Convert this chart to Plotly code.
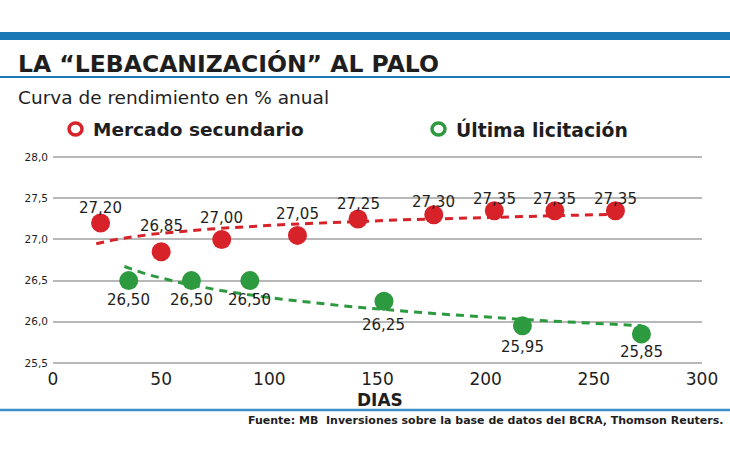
import numpy as np
import plotly.graph_objects as go

# ---- data ----
sec_days = [22, 50, 78, 113, 141, 176, 204, 232, 260]
sec_rates = [27.20, 26.85, 27.00, 27.05, 27.25, 27.30, 27.35, 27.35, 27.35]
lic_days = [35, 64, 91, 153, 217, 272]
lic_rates = [26.50, 26.50, 26.50, 26.25, 25.95, 25.85]
y_ticks = [25.5, 26.0, 26.5, 27.0, 27.5, 28.0]
x_ticks = [0, 50, 100, 150, 200, 250, 300]

# ---- label placement (style: vertical pixel shift of each value label) ----
sec_label_shift = [15, 26, 21, 21, 15, 13, 12, 12, 12]
lic_label_shift = [-19, -19, -19, -24, -21, -18]

RED = "#d7222a"
GREEN = "#2e9a40"
BLUE = "#1a78b4"
DARK = "#1e1e1e"
FONT = "DejaVu Sans"

W, H = 730, 460
ML, MR, MT, MB = 53, 28, 149, 93
PW, PH = W - ML - MR, H - MT - MB


def px(x):
    return (x - ML) / PW


def py(y):
    return (H - MB - y) / PH


def log_trend(xs, ys):
    lx = np.log(np.array(xs, dtype=float))
    b, a = np.polyfit(lx, np.array(ys, dtype=float), 1)
    xx = np.linspace(min(xs) - 2, max(xs), 60)
    return xx, a + b * np.log(xx)


def fmt(v):
    return f"{v:.2f}".replace(".", ",")


fig = go.Figure()

tx, ty = log_trend(sec_days, sec_rates)
fig.add_trace(go.Scatter(x=tx, y=ty, mode="lines", hoverinfo="skip",
                         line=dict(color=RED, width=3, dash="8px,6px"), showlegend=False))
tx, ty = log_trend(lic_days, lic_rates)
fig.add_trace(go.Scatter(x=tx, y=ty, mode="lines", hoverinfo="skip",
                         line=dict(color=GREEN, width=3, dash="8px,6px"), showlegend=False))

fig.add_trace(go.Scatter(
    x=sec_days, y=sec_rates, mode="markers", name="Mercado secundario",
    marker=dict(color=RED, size=19, line=dict(width=0)), showlegend=False))
fig.add_trace(go.Scatter(
    x=lic_days, y=lic_rates, mode="markers", name="Última licitación",
    marker=dict(color=GREEN, size=19, line=dict(width=0)), showlegend=False))

annotations = []
for d, r, s in zip(sec_days, sec_rates, sec_label_shift):
    annotations.append(dict(x=d, y=r, xref="x", yref="y", text=fmt(r), showarrow=False,
                            xanchor="center", yanchor="middle", yshift=s,
                            font=dict(family=FONT, size=15, color=DARK)))
for d, r, s in zip(lic_days, lic_rates, lic_label_shift):
    annotations.append(dict(x=d, y=r, xref="x", yref="y", text=fmt(r), showarrow=False,
                            xanchor="center", yanchor="middle", yshift=s,
                            font=dict(family=FONT, size=15, color=DARK)))

shapes = [
    dict(type="rect", xref="paper", yref="paper", x0=px(0), x1=px(W), y0=py(40), y1=py(32),
         fillcolor=BLUE, line=dict(width=0), layer="above"),
    dict(type="line", xref="paper", yref="paper", x0=px(0), x1=px(W), y0=py(77), y1=py(77),
         line=dict(color=BLUE, width=2)),
    dict(type="line", xref="paper", yref="paper", x0=px(0), x1=px(W), y0=py(410), y1=py(410),
         line=dict(color="#3a8fc8", width=2.5)),
    dict(type="circle", xref="paper", yref="paper", x0=px(69), x1=px(82), y0=py(135), y1=py(123),
         fillcolor="white", line=dict(color=RED, width=3.5)),
    dict(type="circle", xref="paper", yref="paper", x0=px(432), x1=px(445), y0=py(135), y1=py(123),
         fillcolor="white", line=dict(color=GREEN, width=3.5)),
]

annotations += [
    dict(text="<b>LA “LEBACANIZACIÓN” AL PALO</b>", x=px(16), y=py(64), xref="paper", yref="paper",
         xanchor="left", yanchor="middle", showarrow=False,
         font=dict(family=FONT, size=23.5, color=DARK)),
    dict(text="Curva de rendimiento en % anual", x=px(16), y=py(97), xref="paper", yref="paper",
         xanchor="left", yanchor="middle", showarrow=False,
         font=dict(family=FONT, size=18.5, color=DARK)),
    dict(text="<b>Mercado secundario</b>", x=px(91), y=py(129), xref="paper", yref="paper",
         xanchor="left", yanchor="middle", showarrow=False,
         font=dict(family=FONT, size=18.5, color=DARK)),
    dict(text="<b>Última licitación</b>", x=px(454), y=py(129), xref="paper", yref="paper",
         xanchor="left", yanchor="middle", showarrow=False,
         font=dict(family=FONT, size=18.8, color=DARK)),
    dict(text="<b>DIAS</b>", x=px(380), y=py(400), xref="paper", yref="paper",
         xanchor="center", yanchor="middle", showarrow=False,
         font=dict(family=FONT, size=17, color=DARK)),
    dict(text="<b>Fuente: MB  Inversiones sobre la base de datos del BCRA, Thomson Reuters.</b>",
         x=px(725), y=py(420), xref="paper", yref="paper",
         xanchor="right", yanchor="middle", showarrow=False,
         font=dict(family=FONT, size=11, color=DARK)),
]

fig.update_layout(
    width=W, height=H,
    margin=dict(l=ML, r=MR, t=MT, b=MB, pad=0),
    paper_bgcolor="white", plot_bgcolor="white",
    separators=",.",
    showlegend=False,
    shapes=shapes, annotations=annotations,
    xaxis=dict(range=[0, 300], tickvals=x_ticks, showgrid=False, zeroline=False,
               showline=False, ticks="", tickfont=dict(family=FONT, size=17, color=DARK)),
    yaxis=dict(range=[25.45, 28.1], tickvals=y_ticks, tickformat=".1f", showgrid=True,
               gridcolor="#b8b8b8", gridwidth=1.5, zeroline=False, showline=False,
               ticks="", ticklabelstandoff=4, tickfont=dict(family=FONT, size=10.5, color=DARK)),
)

fig.write_html("out.html")
